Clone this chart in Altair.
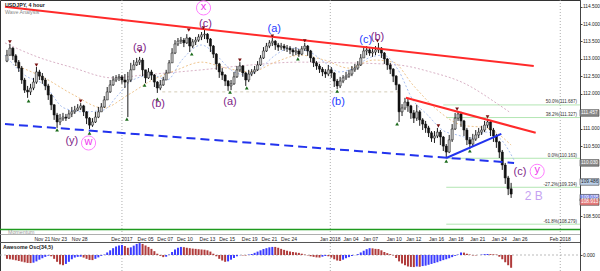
import altair as alt
import pandas as pd

# ---------------- price data (one candle per slot) ----------------
first_open = 112.94
close = [113.11, 113.31, 113.09, 112.91, 112.74, 112.40, 112.11, 112.06, 112.17, 112.34,
         112.63, 112.51, 112.40, 112.23, 111.97, 111.69, 111.40, 111.20, 111.29, 111.34,
         111.31, 111.43, 111.49, 111.54, 111.60, 111.66, 111.49, 111.31, 111.11, 111.20,
         111.34, 111.49, 111.63, 111.83, 112.06, 112.26, 112.40, 112.46, 112.49, 112.40,
         112.34, 112.40, 112.69, 112.83, 112.91, 112.97, 112.69, 112.46, 112.63, 112.54,
         112.34, 112.17, 112.26, 112.40, 112.60, 112.89, 113.17, 113.43, 113.51, 113.54,
         113.46, 113.60, 113.37, 113.49, 113.54, 113.63, 113.69, 113.71, 113.57, 113.37,
         113.14, 112.86, 112.63, 112.54, 112.37, 112.23, 112.29, 112.49, 112.69, 112.80,
         112.60, 112.40, 112.57, 112.63, 112.69, 112.83, 113.03, 113.23, 113.37, 113.46,
         113.51, 113.40, 113.34, 113.37, 113.31, 113.31, 113.26, 113.20, 113.23, 113.14,
         113.29, 113.37, 113.23, 113.03, 112.89, 112.80, 112.71, 112.63, 112.57, 112.69,
         112.60, 112.37, 112.23, 112.37, 112.46, 112.51, 112.57, 112.69, 112.74, 112.83,
         113.03, 113.23, 113.26, 113.17, 113.20, 113.26, 113.31, 113.17, 113.00, 112.83,
         112.71, 112.51, 112.26, 111.49, 111.60, 111.77, 111.66, 111.46, 111.31, 111.49,
         111.26, 111.14, 111.03, 110.89, 110.74, 110.80, 110.91, 110.77, 110.51, 110.34,
         110.69, 111.00, 111.31, 111.43, 111.23, 110.97, 110.69, 110.57, 110.71, 110.83,
         110.91, 110.97, 111.11, 111.20, 110.97, 110.80, 110.63, 110.34, 109.97, 109.60,
         109.29, 109.14]
high = [113.26, 113.43, 113.34, 113.14, 112.97, 112.80, 112.46, 112.23, 112.29, 112.46,
        112.77, 112.69, 112.60, 112.46, 112.29, 112.00, 111.71, 111.46, 111.43, 111.46,
        111.43, 111.54, 111.63, 111.66, 111.71, 111.74, 111.69, 111.51, 111.34, 111.31,
        111.49, 111.63, 111.74, 111.94, 112.20, 112.40, 112.51, 112.54, 112.57, 112.54,
        112.57, 112.63, 112.89, 112.97, 113.03, 113.06, 113.03, 112.69, 112.74, 112.69,
        112.57, 112.37, 112.40, 112.49, 112.69, 112.97, 113.31, 113.54, 113.60, 113.63,
        113.60, 113.71, 113.63, 113.57, 113.63, 113.71, 113.77, 113.83, 113.74, 113.60,
        113.40, 113.17, 112.89, 112.74, 112.57, 112.40, 112.40, 112.63, 112.80, 112.91,
        112.83, 112.63, 112.69, 112.71, 112.80, 112.94, 113.11, 113.34, 113.46, 113.54,
        113.60, 113.54, 113.46, 113.46, 113.43, 113.40, 113.37, 113.31, 113.34, 113.29,
        113.37, 113.46, 113.40, 113.26, 113.06, 112.94, 112.86, 112.77, 112.71, 112.83,
        112.77, 112.63, 112.43, 112.49, 112.54, 112.63, 112.69, 112.80, 112.86, 112.94,
        113.14, 113.34, 113.37, 113.31, 113.31, 113.37, 113.46, 113.34, 113.20, 113.03,
        112.89, 112.74, 112.54, 112.29, 111.71, 111.89, 111.89, 111.69, 111.54, 111.69,
        111.54, 111.31, 111.23, 111.09, 110.94, 110.94, 111.03, 110.97, 110.80, 110.57,
        110.83, 111.14, 111.46, 111.51, 111.49, 111.26, 111.03, 110.77, 110.86, 110.97,
        111.03, 111.09, 111.23, 111.29, 111.23, 111.03, 110.86, 110.66, 110.40, 110.03,
        109.66, 109.46]
low = [112.91, 113.09, 112.97, 112.80, 112.63, 112.29, 112.03, 111.89, 111.97, 112.11,
       112.29, 112.40, 112.29, 112.11, 111.83, 111.54, 111.26, 111.03, 111.11, 111.23,
       111.23, 111.29, 111.34, 111.43, 111.51, 111.54, 111.37, 111.14, 111.00, 111.06,
       111.17, 111.31, 111.49, 111.60, 111.83, 112.03, 112.23, 112.34, 112.37, 112.29,
       112.17, 111.34, 112.34, 112.69, 112.80, 112.83, 112.51, 112.31, 112.43, 112.40,
       112.20, 112.03, 112.11, 112.23, 112.40, 112.60, 112.89, 113.14, 113.37, 113.43,
       113.34, 113.43, 113.20, 113.31, 113.40, 113.49, 113.54, 113.57, 113.46, 113.20,
       113.03, 112.69, 112.46, 112.40, 112.23, 112.09, 112.11, 112.26, 112.46, 112.63,
       112.49, 112.23, 112.34, 112.51, 112.57, 112.66, 112.80, 113.00, 113.20, 113.31,
       113.37, 113.26, 113.23, 113.26, 113.23, 113.20, 113.14, 113.09, 113.11, 113.06,
       113.11, 113.23, 113.09, 112.91, 112.77, 112.69, 112.60, 112.51, 112.46, 112.51,
       112.46, 112.20, 112.14, 112.17, 112.31, 112.40, 112.46, 112.51, 112.63, 112.69,
       112.80, 113.03, 113.11, 113.09, 113.06, 113.11, 113.17, 113.03, 112.86, 112.69,
       112.57, 112.34, 112.11, 111.20, 111.37, 111.54, 111.49, 111.29, 111.17, 111.23,
       111.09, 110.97, 110.89, 110.77, 110.63, 110.60, 110.74, 110.54, 110.37, 110.17,
       110.31, 110.63, 110.97, 111.23, 111.06, 110.80, 110.54, 110.43, 110.51, 110.66,
       110.74, 110.83, 110.91, 111.03, 110.80, 110.63, 110.46, 110.17, 109.83, 109.43,
       109.11, 109.03]

# Awesome Oscillator (34,5), one value per slot
ao = [-0.45, -0.50, -0.55, -0.62, -0.70, -0.78, -0.86, -0.93, -0.95, -0.90,
      -0.75, -0.55, -0.38, -0.22, -0.08, -0.15, -0.45, -0.80, -1.10, -1.20,
      -1.05, -0.80, -0.50, -0.30, -0.22, -0.20, -0.30, -0.45, -0.58, -0.60,
      -0.45, -0.28, -0.10, 0.05, 0.30, 0.55, 0.80, 1.00, 1.12, 1.18,
      1.05, 0.85, 0.90, 1.10, 1.30, 1.40, 1.30, 1.12, 0.95, 0.72,
      0.45, 0.15, -0.10, -0.25, -0.20, 0.05, 0.35, 0.65, 0.85, 0.95,
      0.92, 0.85, 0.80, 0.75, 0.72, 0.68, 0.65, 0.62, 0.55, 0.40,
      0.15, -0.15, -0.45, -0.65, -0.80, -0.75, -0.55, -0.35, -0.15, -0.02,
      -0.05, -0.05, 0.05, 0.12, 0.25, 0.40, 0.55, 0.70, 0.80, 0.90,
      0.95, 0.95, 0.85, 0.72, 0.60, 0.50, 0.42, 0.35, 0.30, 0.25,
      0.15, 0.05, -0.05, -0.15, -0.22, -0.28, -0.30, -0.20, -0.12, -0.15,
      -0.30, -0.50, -0.65, -0.70, -0.55, -0.38, -0.25, -0.12, -0.02, 0.10,
      0.30, 0.50, 0.68, 0.80, 0.78, 0.72, 0.70, 0.55, 0.35, 0.22,
      0.10, -0.05, -0.35, -0.75, -1.00, -1.20, -1.35, -1.40, -1.42, -1.35,
      -1.38, -1.30, -1.25, -1.15, -1.05, -0.95, -0.85, -0.72, -0.60, -0.50,
      -0.38, -0.25, -0.10, 0.05, 0.30, 0.28, 0.15, 0.05, -0.05, -0.05,
      0.00, 0.05, 0.10, 0.12, 0.10, 0.08, 0.05, -0.20, -0.50, -0.85,
      -1.20, -1.50]

# ---------------- time axis ----------------
date_label = ["Nov 21", "Nov 23", "Nov 28", "Dec 2017", "Dec 05", "Dec 07", "Dec 10",
              "Dec 13", "Dec 15", "Dec 19", "Dec 21", "Dec 24", "Jan 2018", "Jan 04",
              "Jan 07", "Jan 10", "Jan 12", "Jan 16", "Jan 18", "Jan 21", "Jan 24",
              "Jan 26", "Feb 2018"]
date_slot = [12, 17.67, 24.67, 39, 47, 53.67, 60.33, 68, 74.67, 82.33, 89, 95.67,
             109.67, 116.67, 123.33, 131.33, 138, 145.67, 152.33, 159.67, 167, 174, 187.67]
month_slot = [39, 109.67, 187.67]

price_ticks = [108.5, 109.0, 109.5, 110.0, 110.5, 111.0, 111.5, 112.0,
               112.5, 113.0, 113.5, 114.0, 114.5]
# scale labels that sit under the price boxes
covered_ticks = [109.0, 109.5, 110.0, 111.5]

# ---------------- Fibonacci levels ----------------
fib_level = ["50.0%", "38.2%", "0.0%", "-27.2%", "-61.8%"]
fib_price = [111.687, 111.327, 110.163, 109.334, 108.279]
fib_start = [148, 149, 149, 149, 149]

# ---------------- trend lines (start slot, start price, end slot, end price) ----------------
upper_channel = [-0.67, 114.49, 178.67, 112.80]
lower_resistance = [135.33, 111.89, 179.33, 110.89]
support_dashed = [-0.67, 111.14, 172.0, 110.03]
support_short = [149.0, 110.17, 167.67, 110.86]
flat_level = [52.67, 132.67, 112.06]

# ---------------- moving averages ----------------
ma_slow_slot = [-0.67, 10.33, 21.67, 36, 46, 66, 82.67, 99.33, 116, 132.67, 143.67, 155, 166, 170.33]
ma_slow = [113.46, 113.06, 112.77, 112.46, 112.54, 112.69, 112.83, 112.91, 112.89, 112.83,
           112.63, 112.31, 111.74, 111.49]
ma_mid_slot = [2.67, 12.67, 22.67, 32.67, 41, 49.33, 57.67, 66, 74.33, 82.67, 91, 99.33,
               107.67, 116, 124.33, 131, 137.67, 146, 154.33, 162.67, 171]
ma_mid = [112.83, 112.46, 111.97, 111.60, 111.97, 112.40, 112.69, 112.91, 112.74, 112.63,
          112.91, 113.11, 112.97, 112.74, 112.97, 112.91, 112.26, 111.54, 111.11, 111.03, 110.54]
ma_fast_slot = [-0.67, 6, 12.67, 19.33, 26, 32.67, 37.67, 42.67, 49.33, 54.33, 59.33, 66,
                71, 76, 81, 86, 91, 96, 102.67, 107.67, 112.67, 117.67, 122.67, 127.67,
                132.67, 137.67, 142.67, 147.67, 152.67, 157.67, 162.67, 167.67, 172]
ma_fast = [113.11, 112.54, 112.26, 111.60, 111.49, 111.54, 111.97, 112.40, 112.54, 112.40,
           112.97, 113.40, 113.11, 112.69, 112.54, 112.74, 113.11, 113.31, 113.20, 112.91,
           112.63, 112.74, 113.03, 113.11, 112.69, 111.83, 111.40, 110.97, 110.83, 110.74,
           110.91, 110.69, 110.11]

# ---------------- fractals ----------------
top_slot = [1, 10, 25, 45, 61.67, 66.67, 79, 90, 101, 125.67, 146.33, 152.67, 163]
top_price = [113.43, 112.77, 111.74, 113.17, 113.77, 113.83, 112.91, 113.60, 113.46,
             113.46, 111.03, 111.51, 111.29]
bottom_slot = [7.33, 17, 28, 40.67, 46.67, 51, 62.67, 75.67, 81.33, 98.67, 112, 132.33, 149, 157]
bottom_price = [111.86, 111.03, 110.94, 111.34, 112.31, 111.91, 113.20, 112.11, 112.23,
                113.06, 112.14, 111.20, 110.14, 110.43]

# ---------------- wave labels ----------------
wave_text = ["(c)", "(a)", "(b)", "(a)", "(a)", "(b)", "(c)", "(b)", "(y)", "(c)"]
wave_slot = [67.33, 45, 51.33, 75.67, 90.67, 112.33, 121.67, 125.67, 22, 174]
wave_price = [114.00, 113.31, 111.71, 111.77, 113.86, 111.77, 113.54, 113.63, 110.66, 109.77]
wave_degree = ["minor", "minor", "minor", "minor", "minute", "minute", "minute", "minor",
               "minor", "minor"]
circled_text = ["x", "w", "y"]
circled_slot = [66.67, 27.67, 179.83]
circled_price = [114.46, 110.60, 109.79]

# ---------------- right-hand price boxes ----------------
box_price = [111.457, 110.030, 109.486, 109.035, 108.913]
box_fill = ["#8a8a8a", "#8a8a8a", "#bcd0ea", "#7d86e6", "#e47a7a"]
box_ink = ["#ffffff", "#ffffff", "#1a1a1a", "#ffffff", "#ffffff"]

# =====================================================================
FONT = "Liberation Sans"
W, H = 580, 271
X = alt.Scale(domain=[-2 / 3, 192 + 2 / 3], nice=False, zero=False)
PY = alt.Scale(domain=[108.17, 114.686], range=[228, 0], nice=False, zero=False)
AY = alt.Scale(domain=[-1.88, 1.41], range=[271, 243], nice=False, zero=False)
PURPLE, BLUE = "#7e2488", "#1f3dff"


def xq(field):
    return alt.X(field, type="quantitative", scale=X, axis=None)


def pq(field, axis=None):
    return alt.Y(field, type="quantitative", scale=PY, axis=axis)


opens = [first_open] + close[:-1]
candles = pd.DataFrame({
    "slot": list(range(len(close))), "open": opens, "high": high, "low": low, "close": close,
})
candles["body"] = ["#c4c4c4" if c >= o else "#111111" for o, c in zip(opens, close)]

ao_df = pd.DataFrame({"slot": list(range(len(ao))), "ao": ao})
ao_df["col"] = ["#3b3bff" if i > 0 and ao[i] > ao[i - 1] else "#b03b3b" for i in range(len(ao))]

hidden = ",".join(str(v) for v in covered_ticks)
price_axis = alt.Axis(orient="right", values=price_ticks, labelFontSize=4.8,
                      labelExpr=f"indexof([{hidden}], datum.value) >= 0 ? '' : format(datum.value, '.3f')",
                      labelFont=FONT, labelColor="#222", tickSize=2, tickColor="#444",
                      domainColor="#444", labelPadding=0.5, title=None, grid=False,
                      labelOverlap=False)
ao_axis = alt.Axis(orient="right", values=[0], format=".3f", labelFontSize=4.8, labelFont=FONT,
                   labelColor="#222", tickSize=2, tickColor="#444", domainColor="#444",
                   labelPadding=0.5, title=None, grid=False)

one = pd.DataFrame({"k": [0]})

# vertical month separators
separators = alt.Chart(pd.DataFrame({"slot": month_slot})).mark_rule(
    color="#9a9a9a", strokeDash=[1, 2], strokeWidth=0.8
).encode(x=xq("slot"), y=alt.value(0), y2=alt.value(H))

# horizontal rules of the lower panes
green_rule = alt.Chart(one).mark_rule(color="#1f9a1f", strokeWidth=1.3).encode(
    x=alt.value(0), x2=alt.value(W), y=alt.value(229.5))
band_top = alt.Chart(one).mark_rule(color="#9a9a9a", strokeWidth=0.8).encode(
    x=alt.value(0), x2=alt.value(W), y=alt.value(234.5))
band_bottom = alt.Chart(one).mark_rule(color="#555555", strokeWidth=1).encode(
    x=alt.value(0), x2=alt.value(W), y=alt.value(242.5))

# Fibonacci levels
fib_df = pd.DataFrame({"start": fib_start, "price": fib_price,
                       "label": [f"{l}({p:.3f})" for l, p in zip(fib_level, fib_price)]})
fib_lines = alt.Chart(fib_df).mark_rule(color="#9fe09f", strokeWidth=0.8).encode(
    x=xq("start"), x2=alt.value(W), y=pq("price"))
fib_text = alt.Chart(fib_df).mark_text(
    align="right", baseline="bottom", fontSize=4.5, font=FONT, color="#333", dy=-0.5
).encode(x=alt.value(577), y=pq("price"), text="label:N")

# flat dotted level
flat_df = pd.DataFrame({"s0": [flat_level[0]], "s1": [flat_level[1]], "p": [flat_level[2]]})
flat_line = alt.Chart(flat_df).mark_rule(color="#cfc6ae", strokeDash=[3, 3], strokeWidth=0.9).encode(
    x=xq("s0"), x2="s1", y=pq("p"))

# moving averages
ma_df = pd.concat([
    pd.DataFrame({"slot": ma_slow_slot, "price": ma_slow, "ma": "slow", "col": "#d9b2c6"}),
    pd.DataFrame({"slot": ma_mid_slot, "price": ma_mid, "ma": "mid", "col": "#efc58e"}),
    pd.DataFrame({"slot": ma_fast_slot, "price": ma_fast, "ma": "fast", "col": "#a9bff0"}),
])
ma_lines = alt.Chart(ma_df).mark_line(strokeWidth=1, strokeDash=[2, 2], interpolate="monotone").encode(
    x=xq("slot"), y=pq("price"), detail="ma:N", color=alt.Color("col:N", scale=None))

# candles
wicks = alt.Chart(candles).mark_rule(color="#1a1a1a", strokeWidth=1).encode(
    x=xq("slot"), y=pq("low", price_axis), y2="high")
bodies = alt.Chart(candles).mark_bar(size=2.2, stroke="#111", strokeWidth=0.5).encode(
    x=xq("slot"), y=pq("open"), y2="close", fill=alt.Fill("body:N", scale=None))


# trend lines
def segment(vals, colour, width, dash=None):
    df = pd.DataFrame({"s0": [vals[0]], "p0": [vals[1]], "s1": [vals[2]], "p1": [vals[3]]})
    kw = dict(color=colour, strokeWidth=width)
    if dash:
        kw["strokeDash"] = dash
    return alt.Chart(df).mark_rule(**kw).encode(x=xq("s0"), y=pq("p0"), x2="s1", y2="p1")


red_upper = segment(upper_channel, "#ff2a2a", 2)
red_lower = segment(lower_resistance, "#ff2a2a", 2)
blue_dashed = segment(support_dashed, "#2233ee", 2, [9, 5])
blue_short = segment(support_short, "#2233ee", 2)

# fractal markers
tops = alt.Chart(pd.DataFrame({"slot": top_slot, "price": top_price})).mark_point(
    shape="triangle-down", filled=True, size=14, color="#7a1212", opacity=1, yOffset=-2
).encode(x=xq("slot"), y=pq("price"))
bottoms = alt.Chart(pd.DataFrame({"slot": bottom_slot, "price": bottom_price})).mark_point(
    shape="triangle-up", filled=True, size=14, color="#1b6b1b", opacity=1, yOffset=2
).encode(x=xq("slot"), y=pq("price"))

# wave labels
wave_df = pd.DataFrame({"slot": wave_slot, "price": wave_price, "t": wave_text,
                        "col": [PURPLE if d == "minor" else BLUE for d in wave_degree]})
waves = alt.Chart(wave_df).mark_text(fontSize=11, font=FONT, baseline="middle").encode(
    x=xq("slot"), y=pq("price"), text="t:N", color=alt.Color("col:N", scale=None))
circ_df = pd.DataFrame({"slot": circled_slot, "price": circled_price, "t": circled_text})
circles = alt.Chart(circ_df).mark_point(shape="circle", filled=False, size=200, color="#ff7dff",
                                        strokeWidth=1, opacity=1).encode(x=xq("slot"), y=pq("price"))
circ_text = alt.Chart(circ_df).mark_text(fontSize=11, font=FONT, color="#ee33ee", baseline="middle",
                                         dy=-1).encode(x=xq("slot"), y=pq("price"), text="t:N")
two_b = alt.Chart(pd.DataFrame({"slot": [178.67], "price": [109.09], "t": ["2 B"]})).mark_text(
    fontSize=12, font=FONT, color="#c6a3f2", baseline="middle"
).encode(x=xq("slot"), y=pq("price"), text="t:N")

# price boxes on the right scale
box_df = pd.DataFrame({"price": box_price, "fill": box_fill, "ink": box_ink,
                       "t": [f"{p:.3f}" for p in box_price]})
boxes = alt.Chart(box_df).mark_rect(stroke="#444", strokeWidth=0.6, yOffset=-3.3, y2Offset=3.3).encode(
    x=alt.value(580), x2=alt.value(599), y=pq("price"), y2="price",
    fill=alt.Fill("fill:N", scale=None))
box_text = alt.Chart(box_df).mark_text(align="left", baseline="middle", fontSize=4.8, font=FONT).encode(
    x=alt.value(581), y=pq("price"), text="t:N", color=alt.Color("ink:N", scale=None))

# time labels
dates = alt.Chart(pd.DataFrame({"slot": date_slot, "t": date_label})).mark_text(
    fontSize=5, font=FONT, color="#222", baseline="middle"
).encode(x=xq("slot"), y=alt.value(238.5), text="t:N")

# Awesome Oscillator
ao_zero = alt.Chart(one).mark_rule(color="#aaaaaa", strokeDash=[2, 2], strokeWidth=0.8).encode(
    x=alt.value(0), x2=alt.value(W), y=alt.Y(datum=0, type="quantitative", scale=AY, axis=None))
ao_bars = alt.Chart(ao_df).mark_rule(strokeWidth=2).encode(
    x=xq("slot"), y=alt.Y("ao:Q", scale=AY, axis=ao_axis), y2=alt.datum(0),
    color=alt.Color("col:N", scale=None))

# captions
cap_df = pd.DataFrame({
    "t": ["USDJPY, 4 hour", "Wave Analysis", "Momentum", "Awesome Osc(34,5)"],
    "x": [5, 5, 8, 3], "y": [4.5, 11.5, 231.5, 247],
    "bold": [True, False, False, True], "c": ["#222222", "#888888", "#999999", "#222222"],
})


def caption_layer(df, weight):
    return alt.Chart(df).mark_text(align="left", baseline="middle", fontSize=5.3, font=FONT,
                                   fontWeight=weight).encode(
        x=alt.X("x:Q", scale=None, axis=None), y=alt.Y("y:Q", scale=None, axis=None), text="t:N",
        color=alt.Color("c:N", scale=None))


cap_bold = caption_layer(cap_df[cap_df["bold"]], "bold")
cap_plain = caption_layer(cap_df[~cap_df["bold"]], "normal")

chart = alt.layer(
    separators, fib_lines, flat_line, ma_lines, ao_zero, ao_bars,
    wicks, bodies, red_upper, red_lower, blue_dashed, blue_short,
    tops, bottoms, fib_text, waves, circles, circ_text, two_b,
    green_rule, band_top, band_bottom, dates, boxes, box_text, cap_bold, cap_plain,
).resolve_scale(y="independent").properties(
    width=W, height=H, autosize="none",
    padding={"left": 0, "top": 0, "right": 20, "bottom": 0},
    background="white",
).configure_view(stroke="#333", strokeWidth=1)

chart.save("out.html", embed_options={"renderer": "svg", "actions": False})
